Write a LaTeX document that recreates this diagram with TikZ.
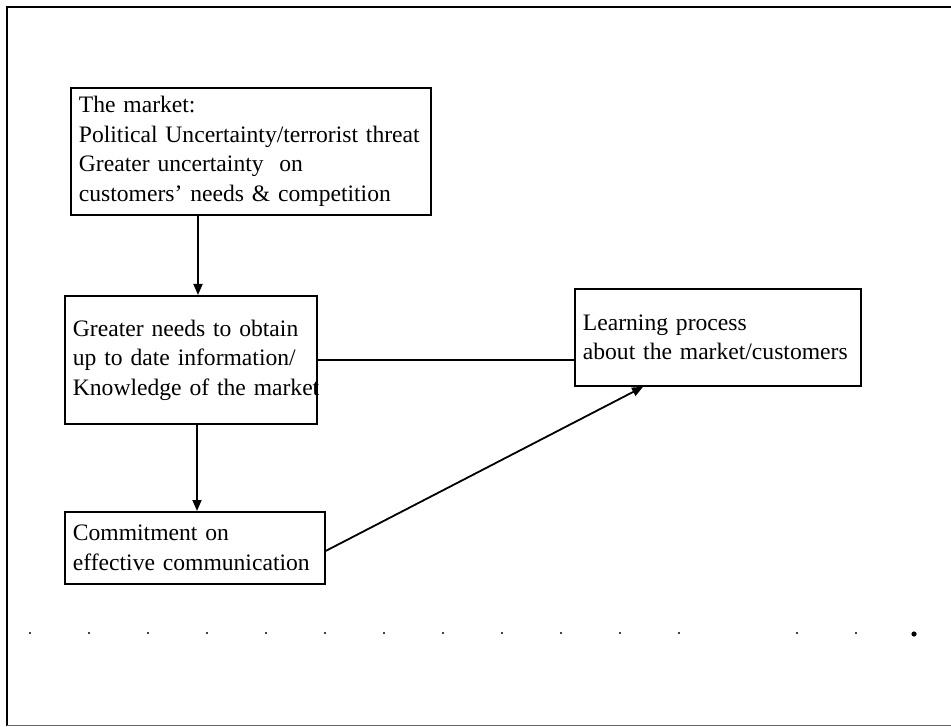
\documentclass[tikz,border=0pt]{standalone}
\usepackage{fontspec}
\setmainfont{Liberation Serif}
\usetikzlibrary{arrows.meta,calc}
% one unbreakable line of box text
\newcommand{\boxline}[1]{\mbox{#1}}
\begin{document}
\begin{tikzpicture}[x=1pt,y=-1pt,
  boxstyle/.style={draw,line width=1.8pt,anchor=north west,inner xsep=8pt,inner ysep=0pt,
    align=left,font=\fontsize{23.6pt}{29.5pt}\selectfont},
  arr/.style={line width=1.8pt,-{Triangle[length=11pt,width=9pt]}},
  link/.style={line width=1.8pt}]
\useasboundingbox (0,0) rectangle (951,727);
% outer frame
\draw[line width=2pt] (7,726) -- (7,7) -- (951,7);
\draw[line width=0.8pt,black!60] (7,725.5) -- (951,725.5);
% boxes
\node[boxstyle,minimum width=360pt,minimum height=127pt,text width=344pt] (mk) at (70,87)
  {\boxline{The market:}\\\boxline{Political Uncertainty/terrorist threat}\\\boxline{Greater uncertainty\ \ on}\\\boxline{customers’ needs \& competition}};
\node[boxstyle,minimum width=252pt,minimum height=128pt,text width=236pt] (nd) at (64,295)
  {\boxline{Greater needs to obtain}\\\boxline{up to date information/}\\\boxline{Knowledge of the market}};
\node[boxstyle,minimum width=286pt,minimum height=97pt,text width=270pt] (lp) at (574,288)
  {\boxline{Learning process}\\\boxline{about the market/customers}};
\node[boxstyle,minimum width=260pt,minimum height=72pt,text width=244pt] (cm) at (64,511)
  {\boxline{Commitment on}\\\boxline{effective communication}};
% connectors
\coordinate (mk1) at ($(mk.south west)+(128,0)$);
\draw[arr] (mk1) -- (mk1 |- nd.north);
\coordinate (nd1) at ($(nd.south west)+(133,0)$);
\draw[arr] (nd1) -- (nd1 |- cm.north);
\draw[link] (nd.east) -- (nd.east -| lp.west);
\coordinate (lp1) at ($(lp.south west)!0.24!(lp.south east)$);
\draw[arr] ($(cm.east)+(0,3)$) -- (lp1);
% dotted row
\foreach \k in {0,...,11,13,14}
  \fill ({30+59*\k},633) circle (1.2pt);
\fill (914,634) circle (2.6pt);
\end{tikzpicture}
\end{document}
